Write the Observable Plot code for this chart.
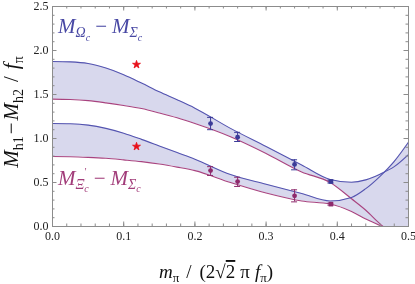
<!DOCTYPE html>
<html><head><meta charset="utf-8">
<script src="https://cdn.jsdelivr.net/npm/d3@7"></script>
<script src="https://cdn.jsdelivr.net/npm/@observablehq/plot@0.6"></script>
<style>body{margin:0;background:#fff}</style>
</head><body><div id="chart"></div>
<script>
// ---- data ----
const xGrid      = [0, 0.025, 0.05, 0.075, 0.1, 0.125, 0.15, 0.175, 0.2, 0.25, 0.3, 0.35, 0.39, 0.42, 0.44, 0.46, 0.48, 0.5];
const omegaUpper = [1.875, 1.871, 1.852, 1.80, 1.725, 1.63, 1.53, 1.44, 1.345, 1.115, 0.91, 0.70, 0.535, 0.503, 0.53, 0.595, 0.68, 0.818];
const omegaLower = [1.447, 1.443, 1.43, 1.405, 1.375, 1.34, 1.29, 1.235, 1.17, 1.02, 0.83, 0.62, 0.50, 0.315, 0.185, 0.03, -0.10, -0.25];
const xiUpper    = [1.17, 1.167, 1.152, 1.115, 1.06, 0.99, 0.915, 0.84, 0.765, 0.59, 0.48, 0.375, 0.29, 0.33, 0.43, 0.57, 0.74, 0.958];
const xiLower    = [0.795, 0.793, 0.786, 0.775, 0.757, 0.737, 0.71, 0.675, 0.635, 0.50, 0.38, 0.29, 0.255, 0.17, 0.085, 0.01, -0.08, -0.20];

const latticeX   = [0.222, 0.260, 0.340, 0.391];
const omegaPts   = [1.17, 1.015, 0.705, 0.511];
const omegaErrLo = [1.10, 0.966, 0.644, 0.495];
const omegaErrHi = [1.24, 1.07, 0.758, 0.527];
const xiPts      = [0.636, 0.511, 0.349, 0.254];
const xiErrLo    = [0.58, 0.455, 0.28, 0.243];
const xiErrHi    = [0.68, 0.56, 0.417, 0.265];
const markerShape = ["circle", "circle", "circle", "square"];

const starX = [0.118, 0.118];
const starY = [1.84, 0.909];

const xMajor = [0, 0.1, 0.2, 0.3, 0.4, 0.5];
const yMajor = [0, 0.5, 1.0, 1.5, 2.0, 2.5];

// ---- derived tables ----
const bandOmega = xGrid.map((x, i) => ({x, lo: omegaLower[i], hi: omegaUpper[i]}));
const bandXi    = xGrid.map((x, i) => ({x, lo: xiLower[i], hi: xiUpper[i]}));
const omegaData = latticeX.map((x, i) => ({x, y: omegaPts[i], lo: omegaErrLo[i], hi: omegaErrHi[i], s: markerShape[i]}));
const xiData    = latticeX.map((x, i) => ({x, y: xiPts[i], lo: xiErrLo[i], hi: xiErrHi[i], s: markerShape[i]}));
const stars     = starX.map((x, i) => ({x, y: starY[i]}));
const xMinor = d3.ticks(0, 0.5, 25);
const yMinor = d3.ticks(0, 2.5, 25);

const W = 415, H = 284, ML = 52, MR = 7, MT = 6, MB = 58;
const FW = W - ML - MR, FH = H - MT - MB;
const FILL = "#d8d8ed", BLUE = "#5454b0", MAG = "#a8437f";
const PBLUE = "#3a3a98", PMAG = "#8e2a6c", TICK = "#8c8c8c";
const SERIF = "'Liberation Serif', 'Times New Roman', serif";

function errMarks(data, color) {
  return [
    Plot.ruleX(data, {x: "x", y1: "lo", y2: "hi", stroke: color, strokeWidth: 1}),
    Plot.ruleY(data, {y: "hi", x1: "x", x2: "x", insetLeft: -3, insetRight: -3, stroke: color}),
    Plot.ruleY(data, {y: "lo", x1: "x", x2: "x", insetLeft: -3, insetRight: -3, stroke: color}),
    Plot.dot(data.filter(d => d.s === "circle"), {x: "x", y: "y", fill: color, r: 2.4, symbol: "circle"}),
    Plot.dot(data.filter(d => d.s === "square"), {x: "x", y: "y", fill: color, r: 2.6, symbol: "square"})
  ];
}

const plot = Plot.plot({
  width: W, height: H,
  marginLeft: ML, marginRight: MR, marginTop: MT, marginBottom: MB,
  x: {domain: [0, 0.5]},
  y: {domain: [0, 2.5]},
  style: {fontFamily: SERIF, fontSize: "12px", color: "#222", background: "white"},
  marks: [
    Plot.areaY(bandOmega, {x: "x", y1: "lo", y2: "hi", fill: FILL, curve: "monotone-x", clip: true, mixBlendMode: "multiply"}),
    Plot.areaY(bandXi, {x: "x", y1: "lo", y2: "hi", fill: FILL, curve: "monotone-x", clip: true, mixBlendMode: "multiply"}),
    Plot.lineY(bandOmega, {x: "x", y: "hi", stroke: BLUE, strokeWidth: 1.1, curve: "monotone-x", clip: true}),
    Plot.lineY(bandOmega, {x: "x", y: "lo", stroke: MAG, strokeWidth: 1.1, curve: "monotone-x", clip: true}),
    Plot.lineY(bandXi, {x: "x", y: "hi", stroke: BLUE, strokeWidth: 1.1, curve: "monotone-x", clip: true}),
    Plot.lineY(bandXi, {x: "x", y: "lo", stroke: MAG, strokeWidth: 1.1, curve: "monotone-x", clip: true}),
    ...errMarks(omegaData, PBLUE),
    ...errMarks(xiData, PMAG),
    Plot.dot(stars, {x: "x", y: "y", symbol: "star", fill: "#e8101a", stroke: "#e8101a", strokeWidth: 0.8, r: 2.5}),
    // inward ticks
    Plot.ruleX(xMinor, {x: d => d, insetTop: FH - 2.5, stroke: TICK}),
    Plot.ruleX(xMajor, {x: d => d, insetTop: FH - 4.5, stroke: TICK}),
    Plot.ruleX(xMinor, {x: d => d, insetBottom: FH - 2.5, stroke: TICK}),
    Plot.ruleX(xMajor, {x: d => d, insetBottom: FH - 4.5, stroke: TICK}),
    Plot.ruleY(yMinor, {y: d => d, insetRight: FW - 2.5, stroke: TICK}),
    Plot.ruleY(yMajor, {y: d => d, insetRight: FW - 4.5, stroke: TICK}),
    Plot.ruleY(yMinor, {y: d => d, insetLeft: FW - 2.5, stroke: TICK}),
    Plot.ruleY(yMajor, {y: d => d, insetLeft: FW - 4.5, stroke: TICK}),
    Plot.frame({stroke: TICK}),
    Plot.axisX({ticks: xMajor, tickSize: 0, tickPadding: 5, tickFormat: d3.format(".1f"), label: null, fill: "#222"}),
    Plot.axisY({ticks: yMajor, tickSize: 0, tickPadding: 4, tickFormat: d3.format(".1f"), label: null, fill: "#222"})
  ]
});
document.getElementById("chart").append(plot);

// ---- rich-text labels (real SVG text) ----
const svg = d3.select(plot);
const sx = plot.scale("x"), sy = plot.scale("y");

function rich(textSel, parts) {
  let prev = 0;
  for (const p of parts) {
    const off = -(p.up || 0);
    const t = textSel.append("tspan").text(p.t)
      .attr("font-size", p.s)
      .attr("dy", off - prev);
    if (p.it) t.attr("font-style", "italic");
    if (p.dx) t.attr("dx", p.dx);
    if (p.over) t.attr("text-decoration", "overline");
    prev = off;
  }
}

const omegaLabel = svg.append("text")
  .attr("x", sx.apply(0.0085)).attr("y", sy.apply(2.19))
  .attr("text-anchor", "start")
  .attr("fill", "#4848a4").attr("font-family", SERIF);
rich(omegaLabel, [
  {t: "M", s: 21, it: 1},
  {t: "Ω", s: 14, it: 1, up: -4},
  {t: "c", s: 10, it: 1, up: -7.5},
  {t: "−", s: 21, dx: 5},
  {t: "M", s: 21, it: 1, dx: 5},
  {t: "Σ", s: 14, it: 1, up: -4},
  {t: "c", s: 10, it: 1, up: -7.5}
]);

const xiLabel = svg.append("text")
  .attr("x", sx.apply(0.0085)).attr("y", sy.apply(0.466))
  .attr("text-anchor", "start")
  .attr("fill", "#a23d7a").attr("font-family", SERIF);
rich(xiLabel, [
  {t: "M", s: 21, it: 1},
  {t: "Ξ", s: 14, it: 1, up: -4},
  {t: "′", s: 10, up: 10},
  {t: "c", s: 10, it: 1, up: -7.5, dx: -2.5},
  {t: "−", s: 21, dx: 5},
  {t: "M", s: 21, it: 1, dx: 5},
  {t: "Σ", s: 14, it: 1, up: -4},
  {t: "c", s: 10, it: 1, up: -7.5}
]);

const yLab = svg.append("text")
  .attr("transform", "translate(18,112) rotate(-90)")
  .attr("text-anchor", "middle").attr("fill", "#111").attr("font-family", SERIF);
rich(yLab, [
  {t: "M", s: 21, it: 1},
  {t: "h1", s: 14, up: -5},
  {t: "−", s: 21, dx: 2},
  {t: "M", s: 21, it: 1, dx: 2},
  {t: "h2", s: 14, up: -5},
  {t: "/", s: 21, dx: 7},
  {t: "f", s: 21, it: 1, dx: 7},
  {t: "π", s: 14, up: -5}
]);

const xLab = svg.append("text")
  .attr("x", 216).attr("y", 278)
  .attr("text-anchor", "middle").attr("fill", "#111").attr("font-family", SERIF);
rich(xLab, [
  {t: "m", s: 19, it: 1},
  {t: "π", s: 13, up: -4},
  {t: "/", s: 19, dx: 7},
  {t: "(2", s: 19, dx: 8},
  {t: "√", s: 19},
  {t: "2", s: 19, over: 1},
  {t: "π", s: 19, dx: 5},
  {t: "f", s: 19, it: 1, dx: 5},
  {t: "π", s: 13, up: -4},
  {t: ")", s: 19}
]);
</script>
</body></html>
